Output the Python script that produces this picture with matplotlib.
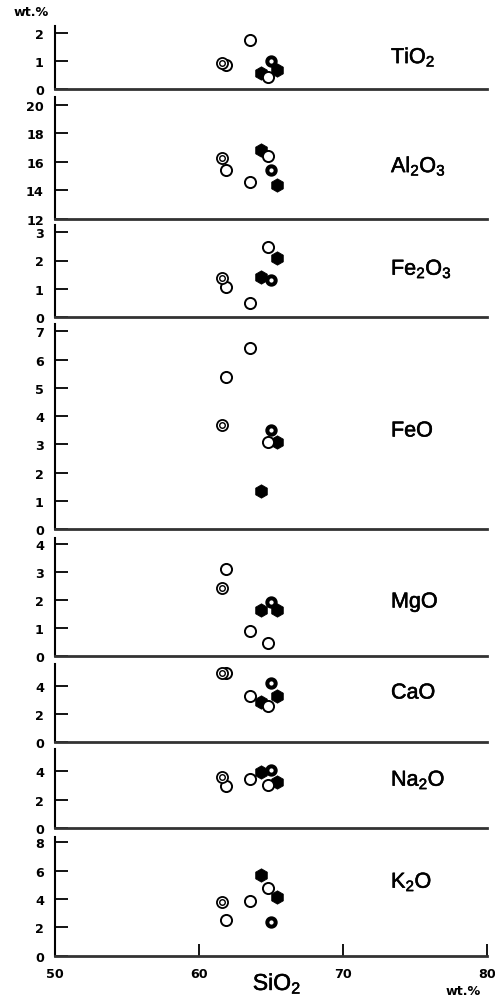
import matplotlib
matplotlib.use('Agg')
import matplotlib.pyplot as plt
import matplotlib.patheffects as pe

plt.rcParams['font.family'] = ['Liberation Sans', 'DejaVu Sans']
plt.rcParams['mathtext.default'] = 'regular'

# ---- data -------------------------------------------------------------
sio2 = [61.6, 61.88, 63.55, 64.3, 64.8, 65.0, 65.4]
symbols = ['bullseye', 'open', 'open', 'filled', 'open', 'ring', 'filled']

oxide_labels = ['TiO$_2$', 'Al$_2$O$_3$', 'Fe$_2$O$_3$', 'FeO', 'MgO', 'CaO', 'Na$_2$O', 'K$_2$O']
tio2 = [0.92, 0.87, 1.75, 0.57, 0.44, 0.99, 0.69]
al2o3 = [16.28, 15.41, 14.6, 16.81, 16.39, 15.46, 14.36]
fe2o3 = [1.38, 1.06, 0.5, 1.41, 2.46, 1.31, 2.09]
feo = [3.68, 5.39, 6.4, 1.33, 3.09, 3.5, 3.07]
mgo = [2.41, 3.1, 0.89, 1.63, 0.44, 1.91, 1.63]
cao = [4.88, 4.88, 3.29, 2.83, 2.54, 4.17, 3.29]
na2o = [3.61, 2.98, 3.45, 3.92, 3.03, 4.1, 3.22]
k2o = [3.8, 2.54, 3.83, 5.68, 4.75, 2.39, 4.11]
series = [tio2, al2o3, fe2o3, feo, mgo, cao, na2o, k2o]

yticks = [[0, 1, 2], [12, 14, 16, 18, 20], [0, 1, 2, 3], list(range(0, 8)),
          list(range(0, 5)), [0, 2, 4], [0, 2, 4], [0, 2, 4, 6, 8]]
xticks = [50, 60, 70, 80]

# ---- layout (pixels) --------------------------------------------------
W, H = 495, 1003
panel_px = [(90, 27), (220, 98), (318.3, 226), (530, 325), (656.7, 539),
            (743.3, 665), (829, 750), (956.7, 838)]
ylims = [(0, 2.25), (12, 20.55), (0, 3.25), (0, 7.26), (0, 4.2),
         (0, 5.53), (0, 5.56), (0, 8.36)]
label_y_px = [58, 167, 270, 432, 603, 694, 781, 883]
x0_px, x1_px = 55, 487

tick_font = dict(family='DejaVu Sans', weight='bold', size=9.2)
heavy = [pe.withStroke(linewidth=0.4, foreground='black')]

fig = plt.figure(figsize=(W / 100, H / 100), dpi=100)

for i, (vals, (bot, top)) in enumerate(zip(series, panel_px)):
    ax = fig.add_axes([x0_px / W, 1 - bot / H, (x1_px - x0_px) / W, (bot - top) / H])
    ax.set_xlim(50, 80)
    ax.set_ylim(*ylims[i])
    ax.set_facecolor('white')
    for s in ['top', 'right']:
        ax.spines[s].set_visible(False)
    ax.spines['left'].set_linewidth(1.5)
    ax.spines['left'].set_color('black')
    ax.spines['bottom'].set_linewidth(2.0)
    ax.spines['bottom'].set_color('#333333')
    ax.set_yticks(yticks[i])
    ax.set_yticklabels([str(v) for v in yticks[i]], fontdict=tick_font)
    ax.tick_params(axis='y', direction='in', length=9, width=1.3, pad=8)
    if i == len(series) - 1:
        ax.set_xticks(xticks)
        ax.set_xticklabels([str(v) for v in xticks], fontdict=tick_font)
        ax.tick_params(axis='x', direction='in', length=9, width=1.3, pad=8)
    else:
        ax.set_xticks([])

    for x, y, sym in zip(sio2, vals, symbols):
        if sym == 'open':
            ax.plot(x, y, 'o', ms=8, mfc='white', mec='black', mew=1.4, zorder=5, clip_on=False)
        elif sym == 'bullseye':
            ax.plot(x, y, 'o', ms=8, mfc='white', mec='black', mew=1.3, zorder=6, clip_on=False)
            ax.plot(x, y, 'o', ms=4.0, mfc='none', mec='black', mew=1.0, zorder=6, clip_on=False)
        elif sym == 'ring':
            ax.plot(x, y, 'o', ms=6, mfc='white', mec='black', mew=2.9, zorder=4, clip_on=False)
        else:
            ax.plot(x, y, 'h', ms=9.6, mfc='black', mec='black', mew=0.6, zorder=3, clip_on=False)

    fig.text(391 / W, 1 - label_y_px[i] / H, oxide_labels[i], fontsize=15.5,
             ha='left', va='center', path_effects=heavy)

fig.text(14 / W, 1 - 12 / H, 'wt.%', fontdict=tick_font, ha='left', va='center')
fig.text(277 / W, 1 - 984 / H, 'SiO$_2$', fontsize=16.5, ha='center', va='center',
         path_effects=heavy)
fig.text(463 / W, 1 - 992 / H, 'wt.%', fontdict=tick_font, ha='center', va='center')

fig.savefig('out.png', dpi=100, facecolor='white')
